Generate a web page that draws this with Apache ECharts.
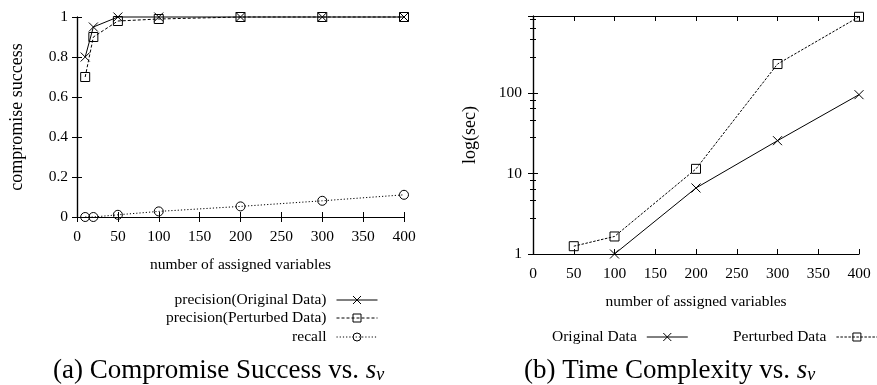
<!DOCTYPE html>
<html>
<head>
<meta charset="utf-8">
<title>Compromise success / time complexity</title>
<script src="https://cdn.jsdelivr.net/npm/echarts@6/dist/echarts.min.js"></script>
<style>
  html, body { margin: 0; padding: 0; background: #fff; }
  #chart { width: 877px; height: 385px; }
</style>
</head>
<body>
<div id="chart"></div>
<script>
// (a) compromise success
const sizesA = [10, 20, 50, 100, 200, 300, 400]
const precisionOriginal = [0.80, 0.95, 1.0, 1.0, 1.0, 1.0, 1.0]
const precisionPerturbed = [0.70, 0.90, 0.98, 0.99, 1.0, 1.0, 1.0]
const recall = [0.0, 0.0, 0.011, 0.028, 0.053, 0.081, 0.111]

// (b) time complexity (seconds, log axis)
const sizesB = [50, 100, 200, 300, 400]
const timeOriginal = [null, 1.0, 6.6, 25.5, 95]
const timePerturbed = [1.25, 1.65, 11.4, 228, 880]

const logTicks = [1, 10, 100]

const FONT = '"Liberation Serif", "Times New Roman", serif'
const BLACK = '#000'
const CROSS = 'path://M0,0L10,10M10,0L0,10'
const SQUARE = 'path://M0,0L10,0L10,10L0,10Z'

const pairs = (xs, ys) => xs.map((x, i) => [x, ys[i]])

const baseText = { fontFamily: FONT, fontSize: 15.5, color: BLACK }

const frameX = (gridIndex, position, show) => ({
  type: 'value',
  gridIndex,
  position,
  min: 0,
  max: 400,
  interval: 50,
  axisLine: { show: true, lineStyle: { color: BLACK, width: 1.2 } },
  axisTick: { show: true, inside: true, length: 5, lineStyle: { color: BLACK } },
  axisLabel: { show, ...baseText, margin: 12 },
  splitLine: { show: false },
  name: show ? 'number of assigned variables' : '',
  nameLocation: 'middle',
  nameGap: 40,
  nameTextStyle: baseText
})

// gnuplot style key entry: text first, then the line sample
const legendAt = (name, pos) => ({
  data: [name],
  ...pos,
  padding: 0,
  align: 'right',
  itemWidth: 41,
  itemHeight: 10,
  lineStyle: { width: 1 },
  itemStyle: { borderWidth: 1 },
  textStyle: { ...baseText, padding: [0, 5, 0, 0] }
})

const captionStyle = {
  fontFamily: FONT, fontSize: 27, fontWeight: 'normal', color: BLACK,
  rich: {
    i: { fontFamily: FONT, fontSize: 27, fontStyle: 'italic', color: BLACK },
    sub: { fontFamily: FONT, fontSize: 18, fontStyle: 'italic', color: BLACK, verticalAlign: 'bottom', padding: [9, 0, 0, 0] }
  }
}

const symbolStyle = { color: 'transparent', borderColor: BLACK, borderWidth: 1 }

const option = {
  animation: false,
  backgroundColor: '#fff',
  textStyle: { fontFamily: FONT },
  title: [
    { text: '(a) Compromise Success vs. {i|s}{sub|v}', left: 53, top: 357, padding: 0, textStyle: captionStyle },
    { text: '(b) Time Complexity vs. {i|s}{sub|v}', left: 524, top: 357, padding: 0, textStyle: captionStyle }
  ],
  legend: [
    legendAt('precision(Original Data)', { right: 499, top: 292 }),
    legendAt('precision(Perturbed Data)', { right: 499, top: 310 }),
    legendAt('recall', { right: 499, top: 329 }),
    legendAt('Original Data', { left: 552, top: 329 }),
    legendAt('Perturbed Data', { left: 733, top: 329 })
  ],
  grid: [
    { left: 77, top: 17, width: 327, height: 200 },
    { left: 533, top: 16, width: 326, height: 238 }
  ],
  xAxis: [
    frameX(0, 'bottom', true),
    frameX(0, 'top', false),
    frameX(1, 'bottom', true),
    frameX(1, 'top', false)
  ],
  yAxis: [
    {
      type: 'value', gridIndex: 0, position: 'left', min: 0, max: 1, interval: 0.2,
      axisLine: { show: true, lineStyle: { color: BLACK, width: 1.2 } },
      axisTick: { show: true, inside: true, length: 5, lineStyle: { color: BLACK } },
      axisLabel: { ...baseText, margin: 9 },
      splitLine: { show: false },
      name: 'compromise success', nameLocation: 'middle', nameGap: 51,
      nameTextStyle: { ...baseText, fontSize: 18 }
    },
    {
      type: 'value', gridIndex: 0, position: 'right', min: 0, max: 1, interval: 0.2,
      axisLine: { show: true, lineStyle: { color: BLACK, width: 1.2 } },
      axisTick: { show: true, inside: true, length: 5, lineStyle: { color: BLACK } },
      axisLabel: { show: false },
      splitLine: { show: false }
    },
    {
      type: 'log', logBase: 10, gridIndex: 1, position: 'left', min: 1, max: 900,
      axisLine: { show: true, lineStyle: { color: BLACK, width: 1.2 } },
      axisTick: { show: true, inside: true, length: 5, lineStyle: { color: BLACK } },
      minorTick: { show: true, length: 3, lineStyle: { color: BLACK } },
      axisLabel: {
        ...baseText, margin: 11, showMaxLabel: false,
        formatter: v => (logTicks.includes(Math.round(v)) ? String(Math.round(v)) : '')
      },
      splitLine: { show: false },
      name: 'log(sec)', nameLocation: 'middle', nameGap: 54,
      nameTextStyle: { ...baseText, fontSize: 18 }
    },
    {
      type: 'log', logBase: 10, gridIndex: 1, position: 'right', min: 1, max: 900,
      axisLine: { show: true, lineStyle: { color: BLACK, width: 1.2 } },
      axisTick: { show: true, inside: true, length: 5, lineStyle: { color: BLACK } },
      minorTick: { show: true, length: 3, lineStyle: { color: BLACK } },
      axisLabel: { show: false },
      splitLine: { show: false }
    }
  ],
  series: [
    {
      name: 'precision(Original Data)', type: 'line', xAxisIndex: 0, yAxisIndex: 0,
      data: pairs(sizesA, precisionOriginal),
      symbol: CROSS, symbolSize: 9, clip: false,
      itemStyle: symbolStyle,
      lineStyle: { color: BLACK, width: 1, type: 'solid' }
    },
    {
      name: 'precision(Perturbed Data)', type: 'line', xAxisIndex: 0, yAxisIndex: 0,
      data: pairs(sizesA, precisionPerturbed),
      symbol: SQUARE, symbolSize: 9, clip: false,
      itemStyle: symbolStyle,
      lineStyle: { color: BLACK, width: 1, type: [3, 2] }
    },
    {
      name: 'recall', type: 'line', xAxisIndex: 0, yAxisIndex: 0,
      data: pairs(sizesA, recall),
      symbol: 'circle', symbolSize: 9, clip: false,
      itemStyle: symbolStyle,
      lineStyle: { color: BLACK, width: 1, type: [1.2, 2] }
    },
    {
      name: 'Original Data', type: 'line', xAxisIndex: 2, yAxisIndex: 2,
      data: pairs(sizesB, timeOriginal),
      symbol: CROSS, symbolSize: 9, clip: false,
      itemStyle: symbolStyle,
      lineStyle: { color: BLACK, width: 1, type: 'solid' }
    },
    {
      name: 'Perturbed Data', type: 'line', xAxisIndex: 2, yAxisIndex: 2,
      data: pairs(sizesB, timePerturbed),
      symbol: SQUARE, symbolSize: 9, clip: false,
      itemStyle: symbolStyle,
      lineStyle: { color: BLACK, width: 1, type: [2.5, 1.5] }
    }
  ]
}

const chart = echarts.init(document.getElementById('chart'))
chart.setOption(option)
window.addEventListener('resize', () => chart.resize())
</script>
</body>
</html>
